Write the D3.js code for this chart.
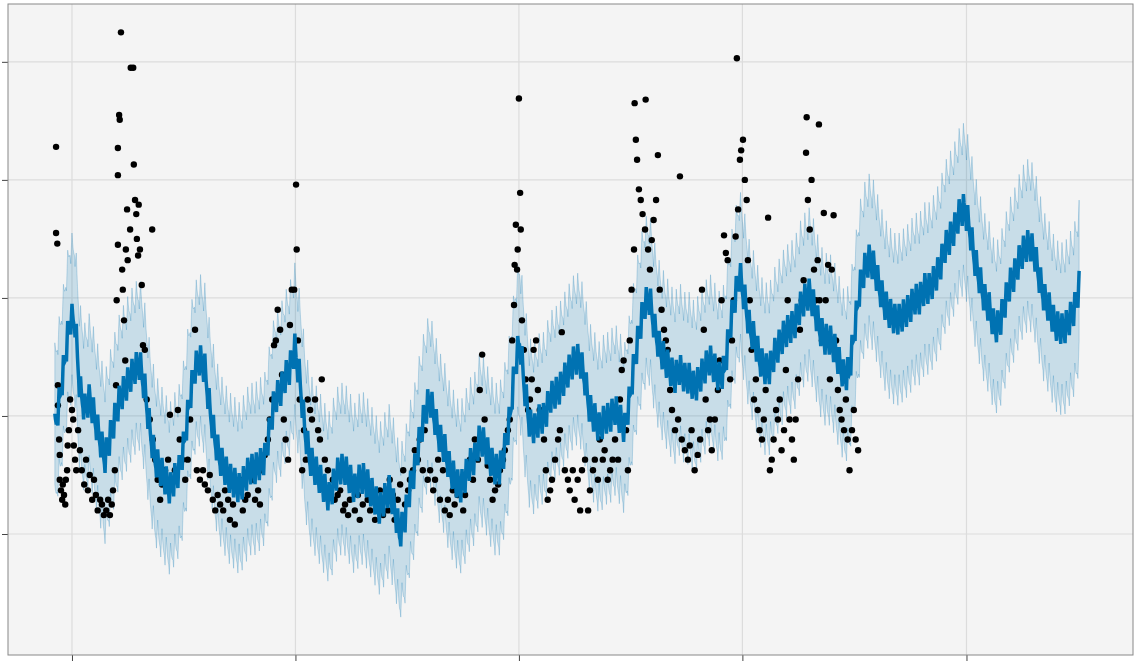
<!DOCTYPE html>
<html><head><meta charset="utf-8">
<script src="https://cdn.jsdelivr.net/npm/d3@7"></script>
<style>body{margin:0;background:#fff}svg{display:block}</style>
</head><body>
<svg id="c" width="1135" height="668"></svg>
<script>
// forecast trend+yearly (yhat without weekly), sampled from start day every step days
const yhatStart = -28, yhatStep = 8.165;
const yhatVals = [1.88,2.14,2.47,2.81,2.81,2.22,2.05,2.14,1.97,1.80,1.63,1.80,1.97,2.14,2.22,2.31,2.39,2.43,2.22,1.88,
1.63,1.54,1.46,1.37,1.46,1.54,1.80,2.14,2.39,2.47,2.39,2.05,1.80,1.63,1.54,1.46,1.42,1.37,1.46,1.54,
1.54,1.58,1.63,1.88,2.14,2.18,2.31,2.39,2.56,2.31,1.88,1.63,1.54,1.46,1.37,1.29,1.46,1.54,1.54,1.46,
1.37,1.46,1.46,1.37,1.29,1.20,1.29,1.37,1.20,0.99,1.12,1.37,1.54,1.80,2.01,2.14,1.97,1.80,1.71,1.54,
1.46,1.37,1.46,1.58,1.63,1.80,1.75,1.63,1.54,1.54,1.71,1.97,2.39,2.64,2.22,1.92,1.88,1.97,1.97,2.14,
2.18,2.22,2.31,2.39,2.47,2.47,2.31,2.05,1.97,1.88,1.97,1.97,2.05,1.97,1.88,2.14,2.47,2.73,2.94,2.98,
2.73,2.56,2.47,2.39,2.31,2.39,2.31,2.31,2.22,2.31,2.39,2.47,2.39,2.31,2.39,2.73,2.98,3.19,2.98,2.73,
2.64,2.47,2.39,2.39,2.52,2.60,2.69,2.73,2.77,2.90,2.98,3.03,2.90,2.73,2.64,2.64,2.56,2.43,2.31,2.39,
2.73,3.07,3.24,3.32,3.24,3.07,2.94,2.86,2.81,2.81,2.86,2.90,2.98,2.98,3.07,3.07,3.15,3.24,3.41,3.49,
3.58,3.71,3.75,3.58,3.32,3.15,2.98,2.90,2.73,2.77,2.94,3.10,3.19,3.32,3.41,3.45,3.36,3.15,2.98,2.90,
2.77,2.73,2.73,2.81,2.90,3.11];
// weekly seasonality, by day of week
const weekly = [0.14,0.06,0.0,-0.03,-0.05,-0.12,0.02];
const bandHalf = 0.6;
// observed points [day, value]
const obs = [[-26,4.28],[-26,3.55],[-24,3.46],[-23,2.26],[-23,2.09],[-21,1.80],[-20,1.67],[-20,1.46],[-18,1.37],[-16,1.29],[-15,1.42],[-13,1.33],[-11,1.25],[-10,1.46],[-8,1.54],[-7,1.75],[-5,1.88],[-3,2.14],[0,2.05],[2,1.97],[3,1.75],[5,1.63],[7,1.54],[10,1.88],[13,1.71],[16,1.54],[20,1.42],[23,1.63],[26,1.37],[29,1.50],[33,1.29],[36,1.46],[39,1.33],[42,1.20],[46,1.29],[49,1.25],[52,1.16],[56,1.20],[59,1.29],[62,1.16],[65,1.25],[67,1.37],[70,1.54],[72,2.26],[73,2.98],[75,3.45],[75,4.04],[75,4.27],[77,4.55],[78,4.51],[80,5.25],[82,3.24],[83,3.07],[85,2.81],[87,2.47],[88,3.41],[90,3.75],[91,3.32],[95,3.58],[96,4.95],[100,4.95],[101,4.13],[103,3.83],[105,3.71],[106,3.50],[108,3.36],[109,3.79],[111,3.41],[114,3.11],[116,2.60],[119,2.56],[122,2.14],[127,1.97],[131,3.58],[132,1.80],[136,1.63],[140,1.46],[144,1.29],[147,1.42],[152,1.54],[157,1.63],[160,2.01],[163,1.46],[168,1.54],[173,2.05],[176,1.80],[180,1.63],[185,1.46],[189,1.63],[193,1.97],[198,2.31],[201,2.73],[204,1.54],[209,1.46],[214,1.54],[217,1.42],[222,1.37],[225,1.50],[230,1.29],[234,1.20],[238,1.33],[242,1.25],[247,1.20],[250,1.37],[255,1.29],[258,1.12],[263,1.25],[266,1.08],[271,1.37],[274,1.46],[279,1.20],[283,1.29],[287,1.33],[291,1.50],[296,1.46],[299,1.29],[304,1.37],[307,1.25],[310,1.54],[315,1.67],[320,1.80],[323,1.97],[327,2.14],[330,2.60],[333,2.64],[336,2.90],[340,2.73],[343,2.35],[346,1.97],[349,1.80],[353,1.63],[356,2.77],[359,3.07],[363,3.07],[366,3.96],[367,3.41],[369,2.64],[372,2.14],[376,1.54],[379,1.88],[382,1.63],[385,2.14],[389,2.05],[392,1.97],[397,2.14],[402,1.88],[405,1.80],[408,2.31],[413,1.63],[418,1.54],[421,1.37],[426,1.46],[429,1.29],[434,1.33],[438,1.37],[443,1.20],[446,1.25],[451,1.16],[454,1.29],[459,1.42],[462,1.20],[467,1.33],[470,1.12],[475,1.25],[478,1.42],[483,1.29],[487,1.20],[492,1.33],[495,1.12],[500,1.25],[503,1.37],[508,1.16],[511,1.29],[516,1.20],[519,1.46],[524,1.33],[527,1.12],[532,1.29],[536,1.42],[541,1.54],[544,1.25],[549,1.37],[552,1.46],[557,1.54],[560,1.71],[565,1.63],[568,1.80],[573,1.54],[576,1.88],[581,1.46],[585,1.54],[590,1.37],[593,1.46],[598,1.63],[601,1.29],[606,1.54],[609,1.20],[614,1.29],[617,1.16],[622,1.37],[625,1.25],[630,1.33],[634,1.46],[639,1.20],[642,1.33],[647,1.54],[650,1.63],[655,1.46],[658,1.80],[663,1.63],[666,2.22],[670,2.52],[674,1.97],[679,1.58],[683,1.46],[687,1.29],[691,1.37],[696,1.42],[699,1.54],[704,1.63],[707,1.71],[712,1.88],[715,1.97],[719,2.64],[722,2.94],[723,3.28],[725,3.62],[727,3.24],[728,3.41],[730,4.69],[732,3.89],[733,3.58],[735,2.81],[738,2.56],[741,2.31],[745,2.05],[748,2.14],[751,2.31],[754,2.56],[758,2.64],[761,2.22],[764,2.05],[768,1.97],[771,1.80],[774,1.54],[777,1.29],[781,1.37],[784,1.46],[789,1.63],[794,1.80],[797,1.88],[800,2.71],[805,1.54],[810,1.46],[813,1.37],[818,1.54],[821,1.29],[826,1.46],[830,1.20],[833,1.54],[838,1.63],[843,1.20],[846,1.37],[851,1.54],[854,1.63],[859,1.46],[862,1.80],[867,1.63],[870,1.71],[875,1.46],[879,1.54],[883,1.63],[887,1.80],[892,1.63],[895,2.14],[898,2.39],[901,2.47],[905,1.88],[908,1.54],[911,2.64],[914,3.07],[918,3.41],[919,4.65],[921,4.34],[923,4.17],[926,3.92],[929,3.83],[932,3.71],[936,3.58],[937,4.68],[941,3.41],[944,3.24],[947,3.49],[950,3.66],[954,3.83],[957,4.21],[960,3.07],[963,2.90],[967,2.73],[970,2.64],[973,2.56],[977,2.22],[980,2.05],[985,1.88],[990,1.97],[993,4.03],[996,1.80],[1001,1.71],[1006,1.63],[1009,1.75],[1012,1.88],[1017,1.54],[1022,1.67],[1026,1.80],[1029,3.07],[1032,2.73],[1035,2.14],[1039,1.88],[1042,1.97],[1045,1.71],[1050,1.97],[1055,2.22],[1058,2.47],[1061,2.98],[1065,3.53],[1068,3.38],[1071,3.32],[1075,2.31],[1078,2.64],[1081,2.98],[1084,3.52],[1086,5.03],[1088,3.75],[1091,4.17],[1093,4.25],[1096,4.34],[1099,4.00],[1102,3.83],[1104,3.32],[1107,2.98],[1110,2.56],[1114,2.14],[1117,2.31],[1120,2.05],[1123,1.88],[1127,1.80],[1130,1.97],[1133,2.22],[1137,3.68],[1140,1.54],[1143,1.63],[1146,1.80],[1150,2.05],[1153,1.97],[1156,2.14],[1159,1.71],[1163,1.88],[1166,2.39],[1169,2.98],[1172,1.97],[1176,1.80],[1179,1.63],[1182,1.97],[1186,2.31],[1189,2.73],[1192,2.98],[1195,3.15],[1199,4.23],[1200,4.53],[1202,3.83],[1205,3.58],[1208,4.00],[1212,3.24],[1215,2.98],[1218,3.32],[1220,4.47],[1221,2.98],[1225,2.64],[1228,3.72],[1231,2.98],[1235,3.28],[1238,2.31],[1241,3.24],[1244,3.70],[1248,2.64],[1251,2.22],[1254,2.05],[1257,1.97],[1261,1.88],[1264,2.14],[1267,1.80],[1270,1.54],[1274,1.88],[1277,2.05],[1280,1.80],[1284,1.71]];
const xTicks = [0,365,730,1095,1461];
const yTicks = [1,2,3,4,5];

const svg = d3.select('#c');
const L=8,R=1133,T=4,B=655;
const x = d3.scaleLinear().domain([-104.5,1733]).range([L,R]);
const y = d3.scaleLinear().domain([-0.025,5.49]).range([B,T]);

svg.append('rect').attr('x',L).attr('y',T).attr('width',R-L).attr('height',B-T).attr('fill','#f4f4f4');
svg.append('g').selectAll('line').data(xTicks).join('line')
  .attr('x1',d=>x(d)).attr('x2',d=>x(d)).attr('y1',T).attr('y2',B).attr('stroke','#dcdcdc').attr('stroke-width',1.2);
svg.append('g').selectAll('line').data(yTicks).join('line')
  .attr('y1',d=>y(d)).attr('y2',d=>y(d)).attr('x1',L).attr('x2',R).attr('stroke','#dcdcdc').attr('stroke-width',1.2);

// daily forecast
const keyDays = yhatVals.map((v,i)=>yhatStart+i*yhatStep);
const trend = d3.scaleLinear().domain(keyDays).range(yhatVals).clamp(true);
const daily = d3.range(Math.ceil(keyDays[0]), Math.floor(keyDays[keyDays.length-1])+1).map(d=>{
  const w = weekly[((d%7)+7)%7];
  const v = trend(d)+w;
  return {d, v, lo:v-bandHalf, hi:v+bandHalf};
});
svg.append('path').datum(daily)
  .attr('d', d3.area().x(d=>x(d.d)).y0(d=>y(d.lo)).y1(d=>y(d.hi)))
  .attr('fill','#0072B2').attr('fill-opacity',0.18).attr('stroke','#0072B2').attr('stroke-opacity',0.22).attr('stroke-width',1);
svg.append('g').selectAll('circle').data(obs).join('circle')
  .attr('cx',d=>x(d[0])).attr('cy',d=>y(d[1])).attr('r',3.2).attr('fill','#000');
svg.append('path').datum(daily)
  .attr('d', d3.line().x(d=>x(d.d)).y(d=>y(d.v)))
  .attr('fill','none').attr('stroke','#0072B2').attr('stroke-width',3.5);

const ax = d3.axisBottom(x).tickValues(xTicks).tickFormat('').tickSize(6).tickSizeOuter(0);
svg.append('g').attr('transform',`translate(0,${B})`).call(ax).call(g=>g.select('.domain').remove())
  .selectAll('line').attr('stroke','#444');
const ay = d3.axisLeft(y).tickValues(yTicks).tickFormat('').tickSize(6).tickSizeOuter(0);
svg.append('g').attr('transform',`translate(${L},0)`).call(ay).call(g=>g.select('.domain').remove())
  .selectAll('line').attr('stroke','#444');
svg.append('rect').attr('x',L).attr('y',T).attr('width',R-L).attr('height',B-T).attr('fill','none').attr('stroke','#888').attr('stroke-width',1);
</script>
</body></html>
